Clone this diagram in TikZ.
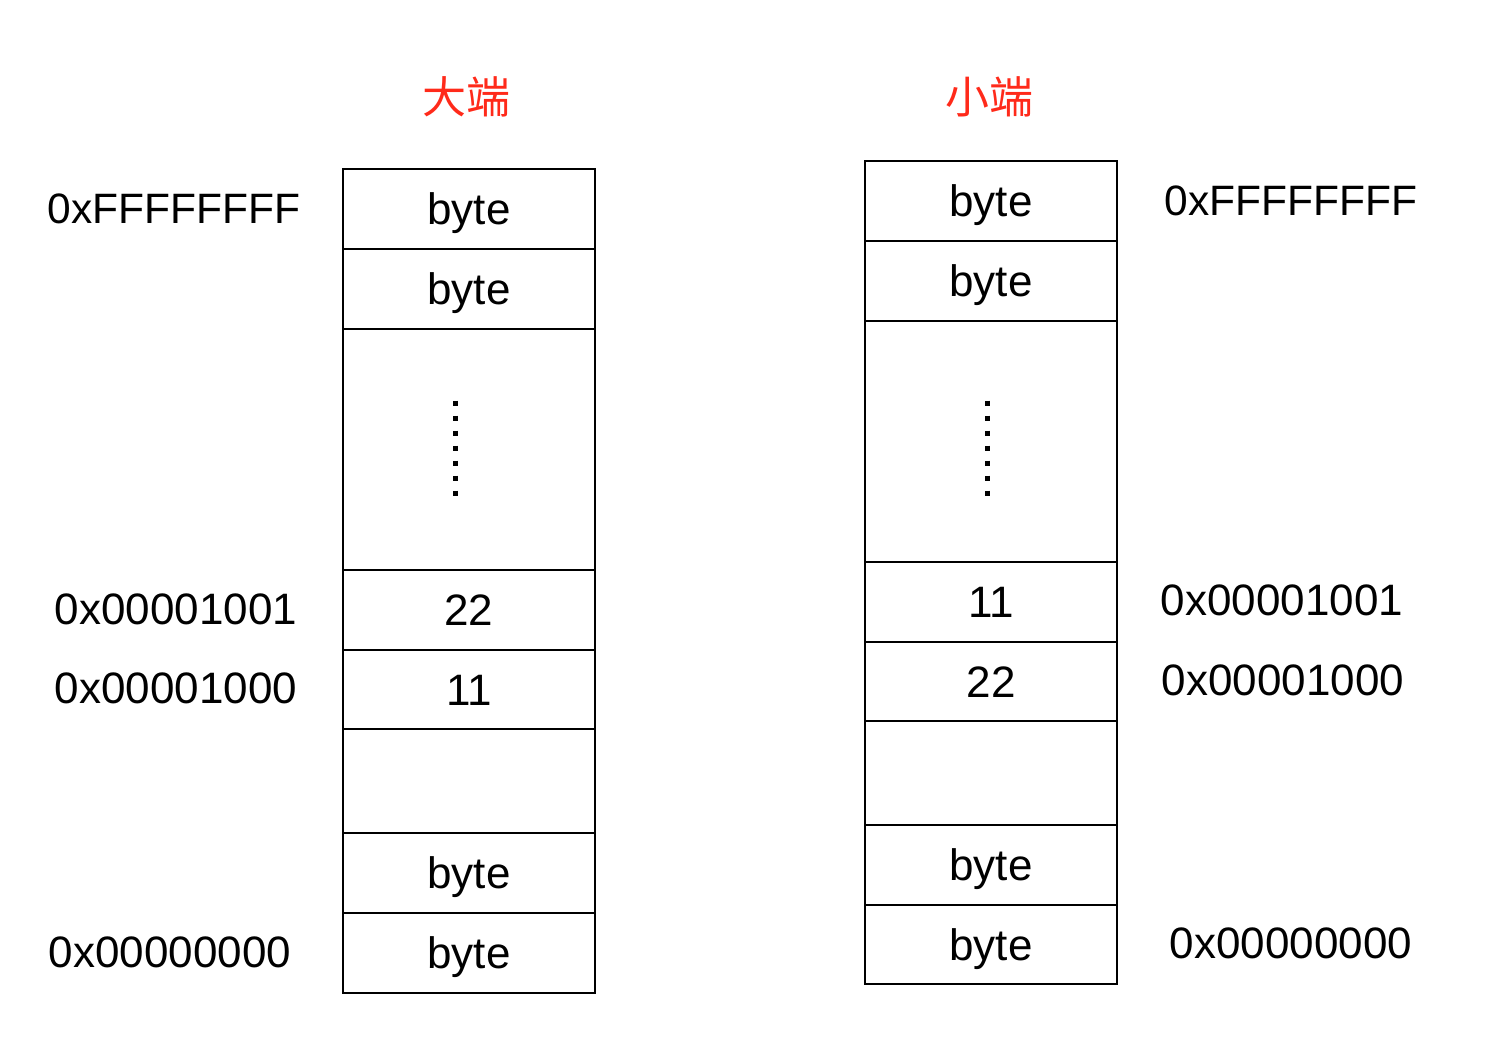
\documentclass[tikz,border=0pt]{standalone}
\usepackage{fontspec}
\setmainfont{Liberation Sans}
\newfontfamily\cjk{Noto Sans CJK SC}
\definecolor{titlered}{HTML}{FF2A1A}
\begin{document}
\begin{tikzpicture}[x=1pt,y=-1pt,
  cell/.style={draw=black, line width=2pt, minimum width=252pt, inner sep=0pt,
    font=\fontsize{44}{52}\selectfont, text height=31.5pt, text depth=0pt, anchor=north west},
  lbl/.style={inner sep=0pt, font=\fontsize{44}{52}\selectfont, text height=31.5pt, text depth=0pt},
  flbl/.style={lbl, font=\fontsize{42.5}{50}\selectfont},
  ttl/.style={inner sep=0pt, font=\cjk\fontsize{44}{52}\selectfont, text=titlered},
  dotline/.style={line width=5pt, dash pattern=on 5pt off 10pt}]
\useasboundingbox (0,0) rectangle (1504,1056);
% titles
\node[ttl] (tbig) at (466,97) {大端};
\node[ttl] (tlittle) at (989,97) {小端};
% big-endian column
\node[cell, minimum height=80pt] (b1) at (342,168) {byte};
\node[cell, minimum height=80pt] (b2) at (342,248) {byte};
\node[cell, minimum height=241pt] (b3) at (342,328) {};
\node[cell, minimum height=80pt] (b4) at (342,569) {22};
\node[cell, minimum height=79pt] (b5) at (342,649) {11};
\node[cell, minimum height=104pt] (b6) at (342,728) {};
\node[cell, minimum height=80pt] (b7) at (342,832) {byte};
\node[cell, minimum height=80pt] (b8) at (342,912) {byte};
\coordinate (bd1) at (455,400.5);
\coordinate (bd2) at (455,497);
\draw[dotline] (bd1) -- (bd2);
% little-endian column
\node[cell, minimum height=80pt] (l1) at (864,160) {byte};
\node[cell, minimum height=80pt] (l2) at (864,240) {byte};
\node[cell, minimum height=241pt] (l3) at (864,320) {};
\node[cell, minimum height=80pt] (l4) at (864,561) {11};
\node[cell, minimum height=79pt] (l5) at (864,641) {22};
\node[cell, minimum height=104pt] (l6) at (864,720) {};
\node[cell, minimum height=80pt] (l7) at (864,824) {byte};
\node[cell, minimum height=79pt] (l8) at (864,904) {byte};
\coordinate (ld1) at (987,400.5);
\coordinate (ld2) at (987,497);
\draw[dotline] (ld1) -- (ld2);
% address labels left
\node[flbl] (a1) at (174,208) {0xFFFFFFFF};
\node[lbl] (a2) at (176,609) {0x00001001};
\node[lbl] (a3) at (176,688) {0x00001000};
\node[lbl] (a4) at (170,952) {0x00000000};
% address labels right
\node[flbl] (r1) at (1291,200) {0xFFFFFFFF};
\node[lbl] (r2) at (1282,600) {0x00001001};
\node[lbl] (r3) at (1283,680) {0x00001000};
\node[lbl] (r4) at (1291,943) {0x00000000};
\end{tikzpicture}
\end{document}
